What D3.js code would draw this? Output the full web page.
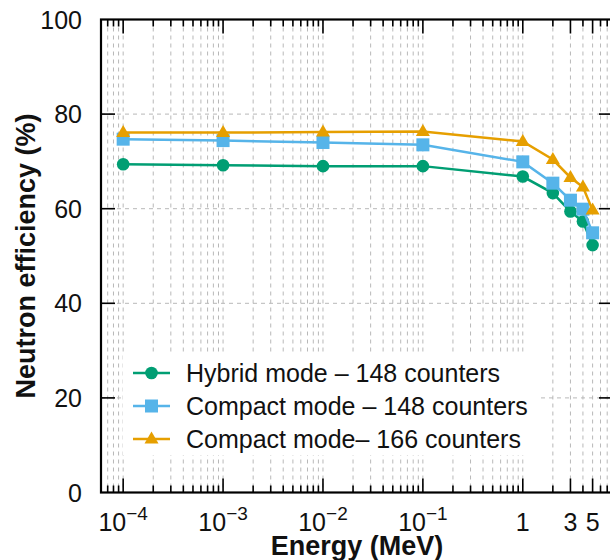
<!DOCTYPE html>
<html>
<head>
<meta charset="utf-8">
<script src="https://cdn.jsdelivr.net/npm/d3@7"></script>
<style>
  body { margin: 0; background: #fff; }
  text { font-family: "Liberation Sans", Arial, sans-serif; fill: #111; }
</style>
</head>
<body>
<div id="svgcontainer"></div>
<script>
var width = 610;
var height = 560;

// energies in MeV
var energies = [1e-4, 1e-3, 1e-2, 1e-1, 1, 2, 3, 4, 5];
var hybrid148 = [69.4, 69.2, 69.0, 69.0, 66.8, 63.3, 59.4, 57.3, 52.3];
var compact148 = [74.7, 74.4, 74.0, 73.5, 69.9, 65.4, 61.8, 59.9, 54.9];
var compact166 = [76.1, 76.1, 76.2, 76.3, 74.2, 70.4, 66.6, 64.6, 59.7];

var seriesNames = ["Hybrid mode \u2013 148 counters", "Compact mode \u2013 148 counters", "Compact mode\u2013 166 counters"];
var seriesColors = ["#009E73", "#56B4E9", "#E69F00"];
var seriesShapes = ["circle", "square", "triangle"];

var xMajorTicks = [1e-4, 1e-3, 1e-2, 1e-1, 1, 3, 5];
var xMajorBase = ["10", "10", "10", "10", "1", "3", "5"];
var xMajorExp = ["\u22124", "\u22123", "\u22122", "\u22121", "", "", ""];
var yTicks = [0, 20, 40, 60, 80, 100];

function drawChart() {
    var left = 101, right = 613, top = 19.5, bottom = 492.5;

    var x = d3.scaleLog().domain([6e-5, 8]).range([left, right]);
    var y = d3.scaleLinear().domain([0, 100]).range([bottom, top]);

    var svg = d3.select("#svgcontainer").append("svg").attr("width", width).attr("height", height);

    // grid
    var minor = x.ticks();
    svg.append("g").selectAll("line").data(minor).enter().append("line")
        .attr("x1", d => x(d)).attr("x2", d => x(d))
        .attr("y1", top).attr("y2", bottom)
        .attr("stroke", "#b8b8b8").attr("stroke-width", 1).attr("stroke-dasharray", "4,4");
    svg.append("g").selectAll("line").data([20, 40, 60, 80]).enter().append("line")
        .attr("x1", left).attr("x2", right)
        .attr("y1", d => y(d)).attr("y2", d => y(d))
        .attr("stroke", "#b8b8b8").attr("stroke-width", 1).attr("stroke-dasharray", "4,4");

    // ticks
    var tickG = svg.append("g").attr("stroke", "#000").attr("stroke-width", 1.6);
    minor.forEach(function (d) {
        var len = xMajorTicks.some(m => Math.abs(m - d) / m < 1e-6) ? 14 : 7;
        tickG.append("line").attr("x1", x(d)).attr("x2", x(d)).attr("y1", bottom).attr("y2", bottom - len);
        tickG.append("line").attr("x1", x(d)).attr("x2", x(d)).attr("y1", top).attr("y2", top + len);
    });
    [20, 40, 60, 80].forEach(function (d) {
        tickG.append("line").attr("x1", left).attr("x2", left + 14).attr("y1", y(d)).attr("y2", y(d));
        tickG.append("line").attr("x1", right).attr("x2", right - 14).attr("y1", y(d)).attr("y2", y(d));
    });

    // frame
    svg.append("rect").attr("x", left).attr("y", top)
        .attr("width", right - left).attr("height", bottom - top)
        .attr("fill", "none").attr("stroke", "#000").attr("stroke-width", 2.2);

    // y tick labels
    svg.append("g").selectAll("text").data(yTicks).enter().append("text")
        .attr("x", 82).attr("y", d => y(d))
        .attr("text-anchor", "end").attr("dominant-baseline", "central")
        .style("font-size", "25px")
        .text(d => d);

    // x tick labels
    xMajorTicks.forEach(function (d, i) {
        var t = svg.append("text").attr("x", x(d)).attr("y", 531)
            .attr("text-anchor", "middle").style("font-size", "25px");
        t.append("tspan").text(xMajorBase[i]);
        if (xMajorExp[i]) {
            t.append("tspan").attr("dy", -11).style("font-size", "19px").text(xMajorExp[i]);
        }
    });

    // axis titles
    svg.append("text").attr("x", (left + right) / 2).attr("y", 555)
        .attr("text-anchor", "middle").style("font-size", "27px").style("font-weight", "bold")
        .text("Energy (MeV)");
    svg.append("text").attr("transform", "translate(35," + ((top + bottom) / 2) + ") rotate(-90)")
        .attr("text-anchor", "middle").style("font-size", "27px").style("font-weight", "bold")
        .text("Neutron efficiency (%)");

    var allSeries = [hybrid148, compact148, compact166];

    function marker(g, shape, cx, cy, color) {
        if (shape == "circle") {
            g.append("circle").attr("cx", cx).attr("cy", cy).attr("r", 6.3).attr("fill", color);
        } else if (shape == "square") {
            g.append("rect").attr("x", cx - 6.5).attr("y", cy - 6.5).attr("width", 13).attr("height", 13).attr("fill", color);
        } else {
            g.append("path").attr("d", "M" + cx + "," + (cy - 7.5) + "L" + (cx + 7) + "," + (cy + 4.5) + "L" + (cx - 7) + "," + (cy + 4.5) + "Z")
                .attr("fill", color);
        }
    }

    var line = d3.line().x((d, i) => x(energies[i])).y(d => y(d));
    allSeries.forEach(function (vals, s) {
        var g = svg.append("g");
        g.append("path").attr("d", line(vals)).attr("fill", "none")
            .attr("stroke", seriesColors[s]).attr("stroke-width", 2.5);
        vals.forEach(function (v, i) {
            marker(g, seriesShapes[s], x(energies[i]), y(v), seriesColors[s]);
        });
    });

    // legend
    var leg = svg.append("g");
    leg.append("rect").attr("x", 123).attr("y", 352).attr("width", 415).attr("height", 103).attr("fill", "#fff");
    seriesNames.forEach(function (name, s) {
        var ly = 373 + s * 33;
        leg.append("line").attr("x1", 133).attr("x2", 170).attr("y1", ly).attr("y2", ly)
            .attr("stroke", seriesColors[s]).attr("stroke-width", 2.5);
        marker(leg, seriesShapes[s], 151.5, ly, seriesColors[s]);
        leg.append("text").attr("x", 186).attr("y", ly).attr("dominant-baseline", "central")
            .style("font-size", "25px").text(name);
    });
}
drawChart();
</script>
</body>
</html>
